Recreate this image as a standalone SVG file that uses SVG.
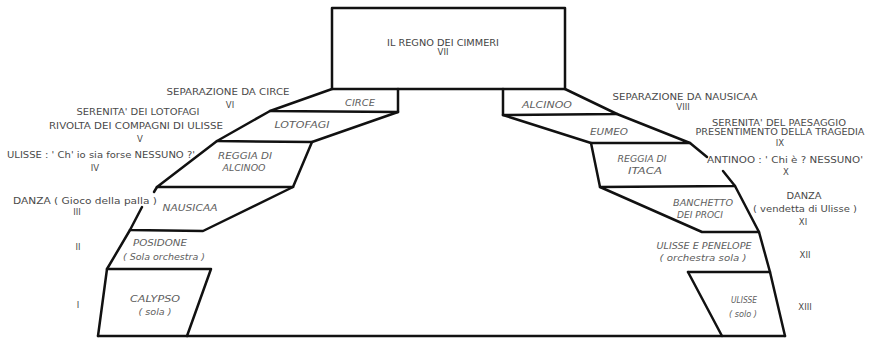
<svg xmlns="http://www.w3.org/2000/svg" width="869" height="338" viewBox="0 0 869 338">
<style>
.ln{fill:none;stroke:#111;stroke-width:2.5;stroke-linejoin:round;stroke-linecap:round}
.an{font-family:"DejaVu Sans",sans-serif;font-size:8.5px;fill:#4a4a4a;text-anchor:middle}
.nd{font-family:"DejaVu Sans",sans-serif;font-size:8.5px;font-style:italic;fill:#5e5e5e;text-anchor:middle}
.tt{font-family:"DejaVu Sans",sans-serif;font-size:8.5px;fill:#444;text-anchor:middle}
</style>
<rect width="869" height="338" fill="#fff"/>
<g id="connectors">
<polyline class="ln" points="98,336 785,336"/>
</g>
<g id="cimmeri">
<rect class="ln" x="332" y="8" width="233" height="81"/>
<text class="tt" x="443" y="46" textLength="112" lengthAdjust="spacingAndGlyphs">IL REGNO DEI CIMMERI</text>
<text class="tt" x="443" y="55">VII</text>
</g>
<g id="circe">
<polyline class="ln" points="332,89 270,111 398,112 398,89"/>
<text class="nd" x="360" y="106" textLength="30" lengthAdjust="spacingAndGlyphs">CIRCE</text>
</g>
<g id="lotofagi">
<polyline class="ln" points="270,111 217,141 312,142 398,112"/>
<text class="nd" x="302" y="128" textLength="55" lengthAdjust="spacingAndGlyphs">LOTOFAGI</text>
</g>
<g id="reggia-alcinoo">
<polyline class="ln" points="217,141 157,187 293,187 312,142"/>
<text class="nd" x="245" y="159" textLength="54" lengthAdjust="spacingAndGlyphs">REGGIA DI</text>
<text class="nd" x="244" y="171" textLength="43" lengthAdjust="spacingAndGlyphs">ALCINOO</text>
</g>
<g id="nausicaa">
<polyline class="ln" points="157,187 154,192"/>
<polyline class="ln" points="142,207 130,230 203,231 293,187"/>
<text class="nd" x="190" y="211" textLength="55" lengthAdjust="spacingAndGlyphs">NAUSICAA</text>
</g>
<g id="posidone">
<polyline class="ln" points="130,230 107,269"/>
<text class="nd" x="160" y="246" textLength="54" lengthAdjust="spacingAndGlyphs">POSIDONE</text>
<text class="nd" x="164" y="260" textLength="82" lengthAdjust="spacingAndGlyphs">( Sola orchestra )</text>
</g>
<g id="calypso">
<polyline class="ln" points="98,336 107,269 211,269 187,336"/>
<text class="nd" x="155" y="302" textLength="50" lengthAdjust="spacingAndGlyphs">CALYPSO</text>
<text class="nd" x="155" y="315" textLength="33" lengthAdjust="spacingAndGlyphs">( sola )</text>
</g>
<g id="alcinoo">
<polyline class="ln" points="503,89 503,115 617,114 565,89"/>
<text class="nd" x="547" y="108" textLength="50" lengthAdjust="spacingAndGlyphs">ALCINOO</text>
</g>
<g id="eumeo">
<polyline class="ln" points="503,115 591,143 690,143 617,114"/>
<text class="nd" x="609" y="135" textLength="38" lengthAdjust="spacingAndGlyphs">EUMEO</text>
</g>
<g id="reggia-itaca">
<polyline class="ln" points="707,157 690,143"/>
<polyline class="ln" points="723,171 735,186 600,187 591,143"/>
<text class="nd" x="642" y="162" textLength="49" lengthAdjust="spacingAndGlyphs">REGGIA DI</text>
<text class="nd" x="645" y="174" textLength="34" lengthAdjust="spacingAndGlyphs">ITACA</text>
</g>
<g id="banchetto">
<polyline class="ln" points="600,187 702,232 759,232 735,186"/>
<text class="nd" x="703" y="206" textLength="60" lengthAdjust="spacingAndGlyphs">BANCHETTO</text>
<text class="nd" x="700" y="218" textLength="46" lengthAdjust="spacingAndGlyphs">DEI PROCI</text>
</g>
<g id="penelope">
<polyline class="ln" points="688,272 770,272 759,232"/>
<text class="nd" x="704" y="249" textLength="95" lengthAdjust="spacingAndGlyphs">ULISSE E PENELOPE</text>
<text class="nd" x="703" y="261" textLength="87" lengthAdjust="spacingAndGlyphs">( orchestra sola )</text>
</g>
<g id="ulisse">
<polyline class="ln" points="722,336 688,272"/>
<polyline class="ln" points="770,272 785,336"/>
<text class="nd" x="744" y="303" textLength="26" lengthAdjust="spacingAndGlyphs">ULISSE</text>
<text class="nd" x="743" y="317" textLength="28" lengthAdjust="spacingAndGlyphs">( solo )</text>
</g>
<g id="annotations-left">
<text class="an" x="228" y="95" textLength="123" lengthAdjust="spacingAndGlyphs">SEPARAZIONE DA CIRCE</text>
<text class="an" x="230" y="108">VI</text>
<text class="an" x="138" y="115" textLength="123" lengthAdjust="spacingAndGlyphs">SERENITA' DEI LOTOFAGI</text>
<text class="an" x="136" y="129" textLength="174" lengthAdjust="spacingAndGlyphs">RIVOLTA DEI COMPAGNI DI ULISSE</text>
<text class="an" x="140" y="142">V</text>
<text class="an" x="101" y="158" textLength="188" lengthAdjust="spacingAndGlyphs">ULISSE : ' Ch' io sia forse NESSUNO ?'</text>
<text class="an" x="95" y="171">IV</text>
<text class="an" x="85" y="204" textLength="144" lengthAdjust="spacingAndGlyphs">DANZA ( Gioco della palla )</text>
<text class="an" x="77" y="215">III</text>
<text class="an" x="78" y="250">II</text>
<text class="an" x="78" y="308">I</text>
</g>
<g id="annotations-right">
<text class="an" x="685" y="100" textLength="145" lengthAdjust="spacingAndGlyphs">SEPARAZIONE DA NAUSICAA</text>
<text class="an" x="683" y="110">VIII</text>
<text class="an" x="779" y="126" textLength="134" lengthAdjust="spacingAndGlyphs">SERENITA'  DEL PAESAGGIO</text>
<text class="an" x="780" y="135" textLength="169" lengthAdjust="spacingAndGlyphs">PRESENTIMENTO DELLA TRAGEDIA</text>
<text class="an" x="780" y="146">IX</text>
<text class="an" x="785" y="163" textLength="156" lengthAdjust="spacingAndGlyphs">ANTINOO : ' Chi è ? NESSUNO'</text>
<text class="an" x="786" y="175">X</text>
<text class="an" x="804" y="199" textLength="35" lengthAdjust="spacingAndGlyphs">DANZA</text>
<text class="an" x="805" y="212" textLength="104" lengthAdjust="spacingAndGlyphs">( vendetta di Ulisse )</text>
<text class="an" x="803" y="225">XI</text>
<text class="an" x="805" y="258">XII</text>
<text class="an" x="805" y="310">XIII</text>
</g>
</svg>
